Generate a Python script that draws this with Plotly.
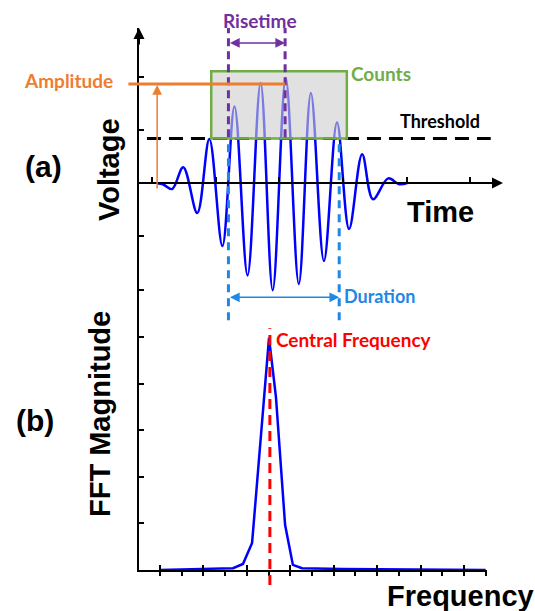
import plotly.graph_objects as go

W, H = 535, 611

# ---------------- data ----------------
# Panel (a): extrema of the acoustic-emission burst (time ticks, voltage ticks)
wave_t = [0.08, 0.17, 0.316, 0.49, 0.71, 0.90, 1.105, 1.295, 1.50, 1.705, 1.895,
          2.10, 2.305, 2.495, 2.70, 2.905, 3.095, 3.30, 3.47, 3.71, 3.88, 4.01]
wave_v = [0.0, -0.02, -0.11, 0.30, -0.56, 0.83, -1.18, 1.44, -1.73, 1.88, -2.01,
          1.97, -1.89, 1.69, -1.46, 1.14, -0.86, 0.54, -0.30, 0.09, -0.02, 0.0]

threshold = 0.84
counts_t = [0.93, 3.06]          # first / last crossing box
counts_top = 2.10
risetime_t = [1.20, 2.09]        # first crossing -> peak
duration_t = [1.20, 2.94]        # first -> last crossing
amplitude = 1.86

# Panel (b): FFT magnitude
fft_f = [0.0, 1.68, 1.91, 2.12, 2.51, 2.67, 2.88, 3.06, 3.27, 4.2, 7.5]
fft_m = [0.0, 0.04, 0.13, 0.58, 4.98, 3.71, 0.97, 0.11, 0.04, 0.02, 0.0]
central_f = 2.53

# axis ranges
t_range = [-0.205, 5.45]
v_range = [-2.66, 2.91]
f_range = [-0.484, 7.53]
m_range = [0.0, 5.258]


def PX(x):
    return x / W


def PY(y):
    return 1 - y / H


BLUE = "#0000ff"
PURPLE = "#7030a0"
GREEN = "#70ad47"
ORANGE = "#ed7d31"
DBLUE = "#1e88e5"
RED = "#ff0000"
LBL = "Lato, Open Sans, sans-serif"
BIG = "Liberation Sans, Arial, sans-serif"

fig = go.Figure()
fig.add_trace(go.Scatter(x=wave_t, y=wave_v, mode="lines",
                         line=dict(color=BLUE, width=2.5, shape="spline"),
                         xaxis="x", yaxis="y", hoverinfo="skip"))
fig.add_trace(go.Scatter(x=fft_f, y=fft_m, mode="lines",
                         line=dict(color=BLUE, width=2.5),
                         xaxis="x2", yaxis="y2", hoverinfo="skip"))

axis_common = dict(showgrid=False, zeroline=False, showline=True, linecolor="black",
                   linewidth=2, ticks="inside", ticklen=5, tickwidth=1.5,
                   tickcolor="black", showticklabels=False, fixedrange=True)

fig.update_layout(
    width=W, height=H, margin=dict(l=0, r=0, t=0, b=0),
    paper_bgcolor="white", plot_bgcolor="rgba(0,0,0,0)", showlegend=False,
    xaxis=dict(domain=[PX(139), PX(499)], range=t_range, anchor="free",
               position=PY(183), tick0=0, dtick=1, **axis_common),
    yaxis=dict(domain=[PY(325), PY(28)], range=v_range, anchor="x",
               tick0=0, dtick=1, **axis_common),
    xaxis2=dict(domain=[PX(139), PX(487)], range=f_range, anchor="y2",
                tick0=0, dtick=1,
                minor=dict(ticks="outside", dtick=0.5, tick0=0, ticklen=4,
                           tickwidth=1.5, tickcolor="black"),
                **axis_common),
    yaxis2=dict(domain=[PY(570), PY(325)], range=m_range, anchor="x2",
                tick0=0, dtick=1, **axis_common),
)

shapes = []
# threshold
shapes.append(dict(type="line", xref="x", yref="y", x0=-0.08, x1=5.32,
                   y0=threshold, y1=threshold, layer="above",
                   line=dict(color="black", width=3, dash="14px,8px")))
# counts box
shapes.append(dict(type="rect", xref="x", yref="y", x0=counts_t[0], x1=counts_t[1],
                   y0=threshold, y1=counts_top, layer="above",
                   fillcolor="rgba(205,205,205,0.6)",
                   line=dict(color=GREEN, width=2.5)))
# risetime dashed lines
for t in risetime_t:
    shapes.append(dict(type="line", xref="x", yref="y", x0=t, x1=t,
                       y0=threshold + 0.02, y1=v_range[1], layer="above",
                       line=dict(color=PURPLE, width=3, dash="8px,5px")))
# duration dashed lines
for t in duration_t:
    shapes.append(dict(type="line", xref="x", yref="y", x0=t, x1=t,
                       y0=-2.57, y1=threshold, layer="above",
                       line=dict(color=DBLUE, width=3, dash="8px,6px")))


# central frequency line (extends slightly below the axis)
def mfrac(m):
    return (m - m_range[0]) / (m_range[1] - m_range[0])


shapes.append(dict(type="line", xref="x2", yref="y2 domain", x0=central_f, x1=central_f,
                   y0=mfrac(-0.32), y1=mfrac(5.19), layer="above",
                   line=dict(color=RED, width=3, dash="10px,6px")))
fig.update_layout(shapes=shapes)


def arrow(x, y, ax, ay, color, width, head=2, side="end", size=1.0,
          xref="x", yref="y", axref=None, ayref=None):
    return dict(x=x, y=y, ax=ax, ay=ay, xref=xref, yref=yref,
                axref=axref or xref, ayref=ayref or yref, text="",
                showarrow=True, arrowhead=head, startarrowhead=head,
                arrowside=side, arrowcolor=color, arrowwidth=width,
                arrowsize=size, startarrowsize=size)


def label(text, x, y, color, size, family=LBL, xanchor="center", angle=0):
    return dict(text=text, x=PX(x), y=PY(y), xref="paper", yref="paper",
                showarrow=False, xanchor=xanchor, yanchor="middle",
                textangle=angle, font=dict(color=color, size=size, family=family))


ann = []
# axis arrowheads
ann.append(arrow(PX(139), PY(28), 0, 18, "black", 2, head=2, size=1.1,
                 xref="paper", yref="paper", axref="pixel", ayref="pixel"))
ann.append(arrow(PX(503), PY(183), -18, 0, "black", 2, head=2, size=1.1,
                 xref="paper", yref="paper", axref="pixel", ayref="pixel"))
# risetime arrow
ann.append(arrow(risetime_t[1], 2.63, risetime_t[0], 2.63, PURPLE, 1.5,
                 head=2, side="end+start", size=1.3))
# duration arrow
ann.append(arrow(duration_t[1], -2.14, duration_t[0], -2.14, DBLUE, 1.5,
                 head=2, side="end+start", size=1.3))
# amplitude arrow and level line
ann.append(arrow(0.08, 1.84, 0.08, -0.13, ORANGE, 1.5, head=2, size=1.3))
ann.append(arrow(risetime_t[1], amplitude, -0.395, amplitude, ORANGE, 3, head=0))

# texts
ann.append(label("<b>Risetime</b>", 260, 20, PURPLE, 19))
ann.append(label("<b>Counts</b>", 349, 74, GREEN, 19, xanchor="left"))
ann.append(label("<b>Threshold</b>", 440, 121, "black", 18))
ann.append(label("<b>Amplitude</b>", 68, 80, ORANGE, 19))
ann.append(label("<b>Duration</b>", 342, 296, DBLUE, 18, xanchor="left"))
ann.append(label("<b>Central Frequency</b>", 274, 339, RED, 19, xanchor="left"))
ann.append(label("<b>(a)</b>", 43, 166, "black", 30, family=BIG))
ann.append(label("<b>(b)</b>", 35, 420, "black", 30, family=BIG))
ann.append(label("<b>Voltage</b>", 109, 170, "black", 29, family=BIG, angle=-90))
ann.append(label("<b>FFT Magnitude</b>", 100, 414, "black", 29, family=BIG, angle=-90))
ann.append(label("<b>Time</b>", 440, 212, "black", 29, family=BIG))
ann.append(label("<b>Frequency</b>", 460, 596, "black", 29, family=BIG))
fig.update_layout(annotations=ann)

fig.write_html("out.html")
